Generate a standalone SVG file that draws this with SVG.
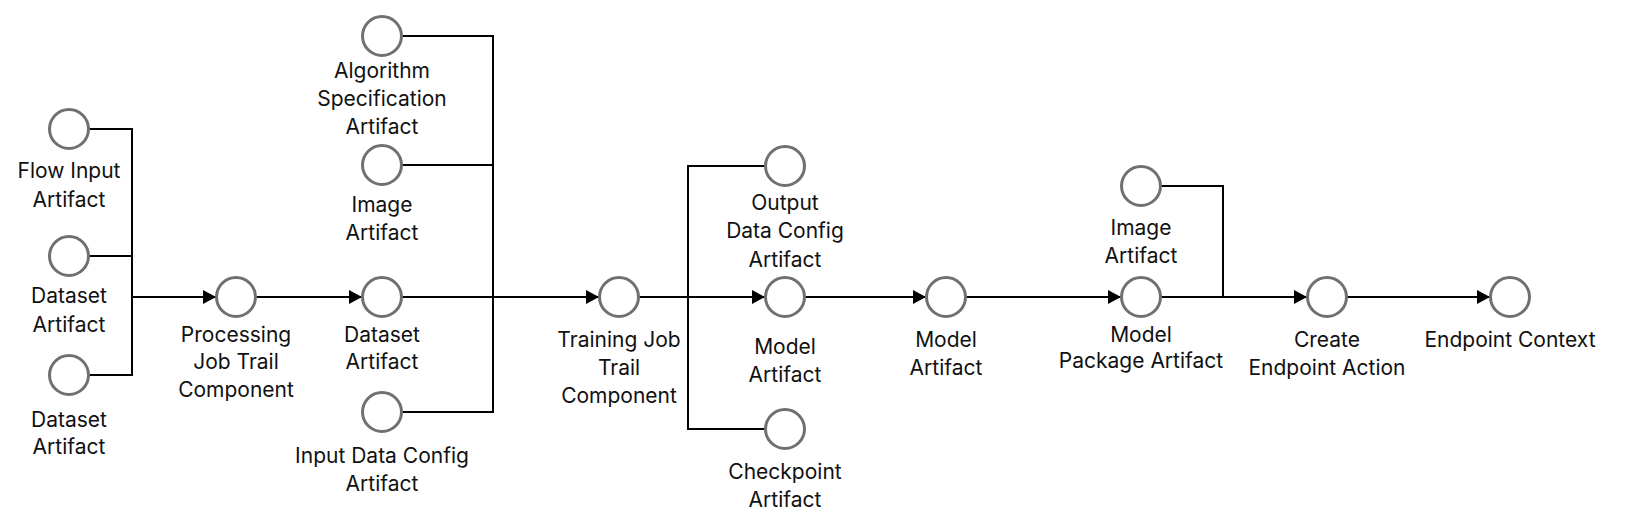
<svg xmlns="http://www.w3.org/2000/svg" width="1650" height="522" viewBox="0 0 1650 522">
<defs>
<marker id="arr" markerUnits="userSpaceOnUse" markerWidth="14" markerHeight="14" refX="13" refY="7" orient="auto">
<path d="M0,0 L13,7 L0,14 Z" fill="#000"/>
</marker>
<style>
.n circle{fill:#fff;stroke:#707070;stroke-width:3}
.n text{font-family:Inter,"Noto Sans",sans-serif;font-size:21px;fill:#111;text-anchor:middle}
.c path{fill:none;stroke:#000;stroke-width:2}
.c .a{marker-end:url(#arr)}
</style>
</defs>
<rect width="1650" height="522" fill="#fff"/>
<g class="c" id="connectors">
<path d="M89,129 H132 V375 H89"/>
<path d="M89,256 H132"/>
<path class="a" d="M132,297 H216"/>
<path class="a" d="M256,297 H362"/>
<path d="M402,36 H493 V412 H402"/>
<path d="M402,165 H493"/>
<path class="a" d="M402,297 H599"/>
<path d="M765,166 H688 V429 H765"/>
<path class="a" d="M639,297 H765"/>
<path class="a" d="M805,297 H926"/>
<path class="a" d="M966,297 H1121"/>
<path d="M1161,186 H1223 V297"/>
<path class="a" d="M1161,297 H1307"/>
<path class="a" d="M1347,297 H1490"/>
</g>
<g class="n" id="flow-input"><circle cx="69" cy="129" r="19.5"/><text x="69" y="178">Flow Input</text><text x="69" y="207">Artifact</text></g>
<g class="n" id="dataset-1"><circle cx="69" cy="256" r="19.5"/><text x="69" y="303">Dataset</text><text x="69" y="332">Artifact</text></g>
<g class="n" id="dataset-2"><circle cx="69" cy="375" r="19.5"/><text x="69" y="427">Dataset</text><text x="69" y="454">Artifact</text></g>
<g class="n" id="processing"><circle cx="236" cy="297" r="19.5"/><text x="236" y="342">Processing</text><text x="236" y="369">Job Trail</text><text x="236" y="397">Component</text></g>
<g class="n" id="dataset-3"><circle cx="382" cy="297" r="19.5"/><text x="382" y="342">Dataset</text><text x="382" y="369">Artifact</text></g>
<g class="n" id="algorithm"><circle cx="382" cy="36" r="19.5"/><text x="382" y="78">Algorithm</text><text x="382" y="106">Specification</text><text x="382" y="134">Artifact</text></g>
<g class="n" id="image-1"><circle cx="382" cy="165" r="19.5"/><text x="382" y="212">Image</text><text x="382" y="240">Artifact</text></g>
<g class="n" id="input-data-config"><circle cx="382" cy="412" r="19.5"/><text x="382" y="463">Input Data Config</text><text x="382" y="491">Artifact</text></g>
<g class="n" id="training"><circle cx="619" cy="297" r="19.5"/><text x="619" y="347">Training Job</text><text x="619" y="375">Trail</text><text x="619" y="403">Component</text></g>
<g class="n" id="output-data-config"><circle cx="785" cy="166" r="19.5"/><text x="785" y="210">Output</text><text x="785" y="238">Data Config</text><text x="785" y="267">Artifact</text></g>
<g class="n" id="model-1"><circle cx="785" cy="297" r="19.5"/><text x="785" y="354">Model</text><text x="785" y="382">Artifact</text></g>
<g class="n" id="checkpoint"><circle cx="785" cy="429" r="19.5"/><text x="785" y="479">Checkpoint</text><text x="785" y="507">Artifact</text></g>
<g class="n" id="model-2"><circle cx="946" cy="297" r="19.5"/><text x="946" y="347">Model</text><text x="946" y="375">Artifact</text></g>
<g class="n" id="image-2"><circle cx="1141" cy="186" r="19.5"/><text x="1141" y="235">Image</text><text x="1141" y="263">Artifact</text></g>
<g class="n" id="model-package"><circle cx="1141" cy="297" r="19.5"/><text x="1141" y="342">Model</text><text x="1141" y="368">Package Artifact</text></g>
<g class="n" id="create-endpoint"><circle cx="1327" cy="297" r="19.5"/><text x="1327" y="347">Create</text><text x="1327" y="375">Endpoint Action</text></g>
<g class="n" id="endpoint-context"><circle cx="1510" cy="297" r="19.5"/><text x="1510" y="347">Endpoint Context</text></g>
</svg>
